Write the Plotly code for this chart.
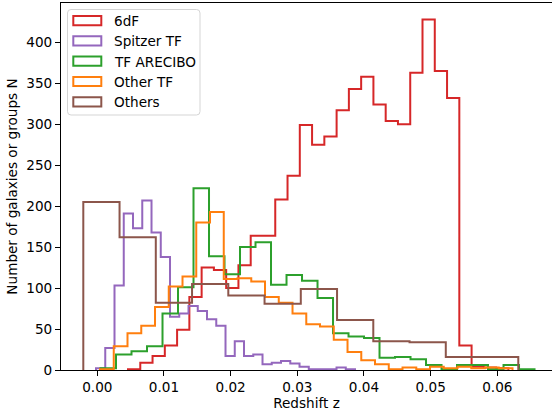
import numpy as np
import plotly.graph_objects as go

# ---- data ----
series_names = ["6dF", "Spitzer TF", "TF ARECIBO", "Other TF", "Others"]
series_colors = ["#d62728", "#9467bd", "#2ca02c", "#ff7f0e", "#8c564b"]

# bin start and width (redshift) per series
red_start, red_width = 0.004605, 0.0018405
red_counts = [1, 9, 17, 30, 49, 89, 125, 122, 100, 128, 164, 164, 208, 237, 299,
              275, 285, 317, 343, 358, 324, 304, 300, 363, 428, 365, 332, 30, 4, 3, 2]

purple_start, purple_width = -0.000195, 0.0013875
purple_counts = [2, 27, 103, 191, 173, 207, 168, 138, 65, 69, 78, 72, 62, 54, 17,
                 35, 17, 19, 7, 9, 11, 8, 4, 1, 1, 1, 3, 1]

green_start, green_width = 0.00048, 0.002325
green_counts = [2, 19, 23, 29, 69, 101, 222, 139, 117, 150, 156, 104, 116, 109, 88,
                45, 41, 39, 15, 16, 13, 6, 1, 6, 6, 1, 6, 1]

orange_start, orange_width = 0.000405, 0.0020625
orange_counts = [1, 29, 45, 54, 77, 102, 114, 180, 193, 111, 112, 108, 89, 82, 69,
                 56, 53, 37, 22, 12, 7, 1, 3, 1, 4, 2, 4, 2, 3, 2]

brown_start, brown_width = -0.0021, 0.005437
brown_counts = [205, 162, 82, 105, 91, 81, 99, 61, 35, 34, 16, 16]

x_ticks = [0.00, 0.01, 0.02, 0.03, 0.04, 0.05, 0.06]
y_ticks = [0, 50, 100, 150, 200, 250, 300, 350, 400]

starts = [red_start, purple_start, green_start, orange_start, brown_start]
widths = [red_width, purple_width, green_width, orange_width, brown_width]
counts_all = [red_counts, purple_counts, green_counts, orange_counts, brown_counts]

W, H = 552, 417
ML, MR, MT, MB = 61, 0, 3, 47
PW, PH = W - ML - MR, H - MT - MB
FONT = "DejaVu Sans"
FS = 13.6


def step_outline(start, width, counts):
    counts = np.asarray(counts, dtype=float)
    edges = start + width * np.arange(len(counts) + 1)
    xs = np.repeat(edges, 2)
    ys = np.concatenate([[0.0], np.repeat(counts, 2), [0.0]])
    return xs, ys


def px_x(p):
    return (p - ML) / PW


def px_y(p):
    return (H - MB - p) / PH


fig = go.Figure()
for name, color, s, w, c in zip(series_names, series_colors, starts, widths, counts_all):
    xs, ys = step_outline(s, w, c)
    fig.add_trace(go.Scatter(
        x=xs, y=ys, mode="lines", name=name,
        line=dict(color=color, width=2),
        hoverinfo="skip", showlegend=False,
    ))

# ---- legend (matplotlib style: hollow rectangles) ----
shapes = []
annotations = []
bx0, bx1, by0, by1, r = 67.5, 200, 9.5, 115, 3.5
box_path = (
    f"M {px_x(bx0 + r)},{px_y(by0)} L {px_x(bx1 - r)},{px_y(by0)} "
    f"Q {px_x(bx1)},{px_y(by0)} {px_x(bx1)},{px_y(by0 + r)} "
    f"L {px_x(bx1)},{px_y(by1 - r)} Q {px_x(bx1)},{px_y(by1)} {px_x(bx1 - r)},{px_y(by1)} "
    f"L {px_x(bx0 + r)},{px_y(by1)} Q {px_x(bx0)},{px_y(by1)} {px_x(bx0)},{px_y(by1 - r)} "
    f"L {px_x(bx0)},{px_y(by0 + r)} Q {px_x(bx0)},{px_y(by0)} {px_x(bx0 + r)},{px_y(by0)} Z"
)
shapes.append(dict(type="path", xref="paper", yref="paper", path=box_path,
                   line=dict(color="#d5d5d5", width=1), fillcolor="rgba(255,255,255,0.8)",
                   layer="above"))
row_y0, row_dy = 20.6, 20.3
for i, (name, color) in enumerate(zip(series_names, series_colors)):
    cy = row_y0 + i * row_dy
    shapes.append(dict(type="rect", xref="paper", yref="paper",
                       x0=px_x(73.3), x1=px_x(101.3), y0=px_y(cy + 4.6), y1=px_y(cy - 4.6),
                       line=dict(color=color, width=2), fillcolor="rgba(0,0,0,0)",
                       layer="above"))
    annotations.append(dict(xref="paper", yref="paper", x=px_x(112), y=px_y(cy + 0.5),
                            xanchor="left", yanchor="middle", showarrow=False,
                            text=name, font=dict(family=FONT, size=FS, color="black")))

fig.update_layout(
    width=W, height=H,
    margin=dict(l=ML, r=MR, t=MT, b=MB),
    paper_bgcolor="white", plot_bgcolor="white",
    font=dict(family=FONT, size=FS, color="black"),
    showlegend=False,
    shapes=shapes, annotations=annotations,
    xaxis=dict(
        range=[-0.005445, 0.0682], tickmode="array", tickvals=x_ticks,
        ticktext=[f"{t:.2f}" for t in x_ticks],
        showgrid=False, zeroline=False,
        showline=True, linecolor="black", linewidth=1, mirror=True,
        ticks="outside", ticklen=5, tickwidth=1, tickcolor="black",
        tickfont=dict(size=FS),
        title=dict(text="Redshift z", standoff=4, font=dict(size=FS)),
    ),
    yaxis=dict(
        range=[0, 448], tickmode="array", tickvals=y_ticks,
        showgrid=False, zeroline=False,
        showline=True, linecolor="black", linewidth=1,
        ticks="outside", ticklen=5, tickwidth=1, tickcolor="black",
        tickfont=dict(size=FS),
        title=dict(text="Number of galaxies or groups N", standoff=5, font=dict(size=FS)),
    ),
)

fig.write_html("out.html")
